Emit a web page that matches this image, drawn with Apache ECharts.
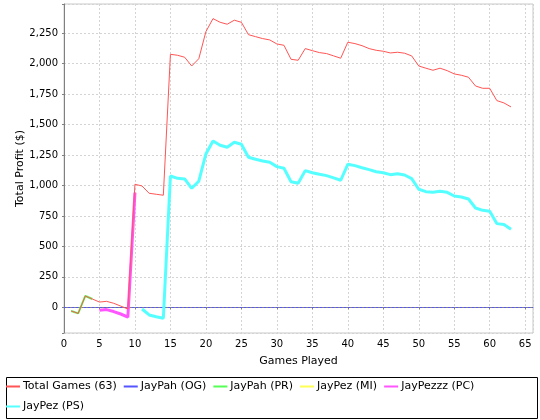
<!DOCTYPE html>
<html>
<head>
<meta charset="utf-8">
<style>
html,body{margin:0;padding:0;background:#fff;}
#c{width:540px;height:420px;}
</style>
<script src="https://cdn.jsdelivr.net/npm/echarts@6/dist/echarts.min.js"></script>
</head>
<body>
<div id="c"></div>
<script>
// ---- data ----
var seriesNames = ['Total Games (63)', 'JayPah (OG)', 'JayPah (PR)', 'JayPez (MI)', 'JayPezzz (PC)', 'JayPez (PS)'];
var xTicks = [0, 5, 10, 15, 20, 25, 30, 35, 40, 45, 50, 55, 60, 65];
var yTicks = [0, 250, 500, 750, 1000, 1250, 1500, 1750, 2000, 2250];

var totalStart = 1;
var totalGames = [-30, -50, 93, 68, 43, 49, 33, 10, -14, 1010,
  996, 936, 928, 920, 2077, 2069, 2053, 1981, 2041, 2263,
  2370, 2340, 2324, 2357, 2340, 2238, 2222, 2206, 2195, 2162,
  2151, 2036, 2028, 2124, 2107, 2091, 2083, 2064, 2045, 2176,
  2165, 2148, 2124, 2110, 2102, 2088, 2094, 2086, 2064, 1981,
  1963, 1946, 1963, 1943, 1916, 1905, 1889, 1817, 1798, 1798,
  1697, 1678, 1645];

var ogStart = 1;
var jayPahOG = [];

var prStart = 1;
var jayPahPR = [-30, -50, 93, 68];

var miStart = 1;
var jayPezMI = [];

var pcStart = 5;
var jayPezzzPC = [-25, -19, -35, -55, -80, 942];

var psStart = 11;
var jayPezPS = [-14, -63, -77, -90, 1078, 1059, 1054, 977, 1035, 1259,
  1366, 1330, 1314, 1355, 1339, 1232, 1215, 1201, 1191, 1155,
  1141, 1031, 1018, 1122, 1105, 1092, 1081, 1062, 1043, 1174,
  1163, 1146, 1130, 1113, 1105, 1089, 1097, 1086, 1056, 969,
  949, 944, 952, 944, 914, 906, 889, 815, 796, 788,
  687, 679, 640];

var colors = ['#FF5555', '#5555FF', '#55FF55', '#FFFF55', '#FF55FF', '#55FFFF'];

function pairs(start, vals) {
  return vals.map(function (v, i) { return [start + i, v]; });
}
function fmtNum(v) {
  return String(v).replace(/\B(?=(\d{3})+(?!\d))/g, ',');
}

var font = 'DejaVu Sans';
var chart = echarts.init(document.getElementById('c'), null, {renderer: 'canvas'});

var lineWidths = [1, 2, 2, 2, 3, 3];
var zs = [8, 7, 6, 5, 4, 3];
var datas = [pairs(totalStart, totalGames), pairs(ogStart, jayPahOG), pairs(prStart, jayPahPR),
  pairs(miStart, jayPezMI), pairs(pcStart, jayPezzzPC), pairs(psStart, jayPezPS)];

var series = seriesNames.map(function (n, i) {
  var s = {
    name: n,
    type: 'line',
    data: datas[i],
    showSymbol: false,
    symbol: 'none',
    lineStyle: {color: colors[i], width: lineWidths[i]},
    itemStyle: {color: colors[i]},
    z: zs[i],
    animation: false,
    silent: true
  };
  if (i === 0) {
    s.markLine = {
      silent: true,
      symbol: 'none',
      label: {show: false},
      lineStyle: {color: '#5555FF', type: [2, 2], width: 1},
      data: [{yAxis: 0}],
      z: 2
    };
  }
  return s;
});

chart.setOption({
  backgroundColor: '#ffffff',
  animation: false,
  color: colors,
  grid: {
    left: 64, right: 7, top: 4, bottom: 87,
    show: true, borderColor: '#c8c8c8', borderWidth: 1, backgroundColor: '#ffffff'
  },
  xAxis: {
    type: 'value',
    min: 0, max: 66.1, interval: 5,
    name: 'Games Played',
    nameLocation: 'middle',
    nameGap: 23,
    nameTextStyle: {fontFamily: font, fontSize: 11, color: '#000'},
    axisLine: {show: true, lineStyle: {color: '#808080', width: 1}},
    axisTick: {show: true, length: 2, lineStyle: {color: '#808080'}},
    axisLabel: {
      fontFamily: font, fontSize: 10, color: '#000', margin: 6,
      showMaxLabel: false,
      formatter: function (v) { return xTicks.indexOf(v) >= 0 ? String(v) : ''; }
    },
    splitLine: {show: true, lineStyle: {color: '#d4d4d4', type: [2, 2], width: 1}}
  },
  yAxis: {
    type: 'value',
    min: -211, max: 2490,
    minInterval: 250, maxInterval: 250,
    name: 'Total Profit ($)',
    nameLocation: 'middle',
    nameGap: 38,
    nameMoveOverlap: false,
    nameTextStyle: {fontFamily: font, fontSize: 11, color: '#000'},
    axisLine: {show: true, lineStyle: {color: '#808080', width: 1}},
    axisTick: {show: true, length: 2, lineStyle: {color: '#808080'}},
    axisLabel: {
      fontFamily: font, fontSize: 10, color: '#000', margin: 6,
      formatter: function (v) { return yTicks.indexOf(v) >= 0 ? fmtNum(v) : ''; }
    },
    splitLine: {show: true, lineStyle: {color: '#d4d4d4', type: [2, 2], width: 1}}
  },
  legend: {
    data: seriesNames,
    left: 6, top: 380, width: 528,
    orient: 'horizontal',
    icon: 'rect',
    itemWidth: 14, itemHeight: 2,
    itemGap: 7,
    padding: 0,
    textStyle: {fontFamily: font, fontSize: 11, color: '#000', lineHeight: 13, padding: [0, 0, 0, -2]},
    selectedMode: false
  },
  graphic: [{
    type: 'rect',
    left: 4, top: 375,
    shape: {width: 531, height: 41},
    style: {fill: null, stroke: '#000', lineWidth: 1},
    silent: true,
    z: -1
  }],
  series: series
});
</script>
</body>
</html>
